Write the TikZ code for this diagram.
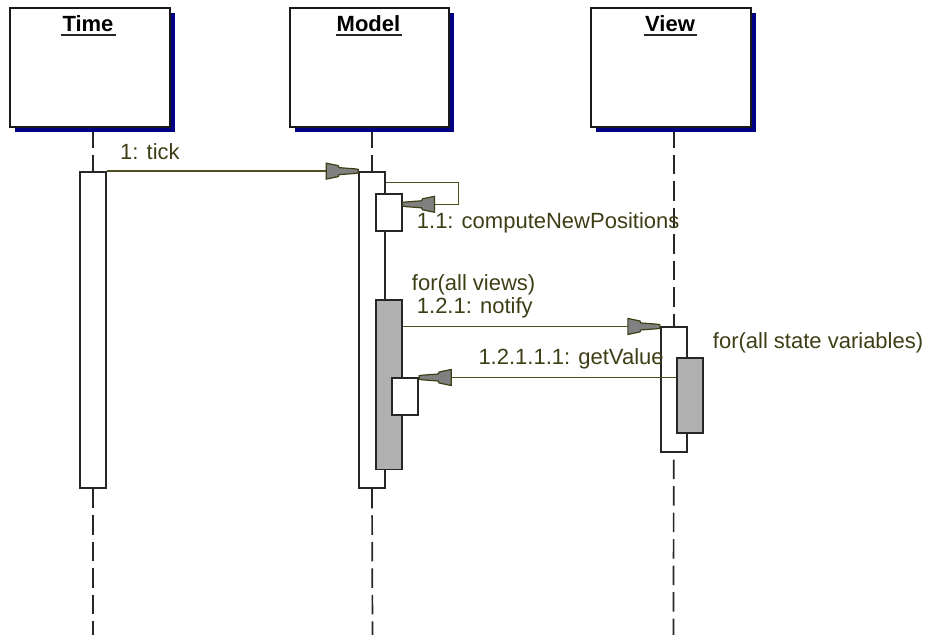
\documentclass[tikz,border=0pt]{standalone}
\usepackage{fontspec}
\setmainfont{Liberation Sans}
\usetikzlibrary{calc,shadows,decorations.markings}
\definecolor{olivetxt}{RGB}{62,62,22}
\definecolor{oliveln}{RGB}{78,78,30}
\definecolor{headgray}{RGB}{128,128,128}
\definecolor{actgray}{RGB}{176,176,176}
\definecolor{shadownavy}{RGB}{0,0,130}
\pgfdeclarelayer{background}
\pgfsetlayers{background,main}
\tikzset{
 objbox/.style={draw=black!90, line width=2pt, fill=white, minimum width=160pt, minimum height=119pt, inner sep=0pt,
   drop shadow={shadow xshift=5pt, shadow yshift=-5pt, fill=shadownavy, opacity=1}},
 objtitle/.style={font=\fontsize{22}{26}\selectfont\bfseries, inner sep=0pt, anchor=base},
 uline/.style={draw=black!85, line width=1.7pt},
 act/.style={draw=black!85, line width=1.7pt, fill=white, minimum width=26pt, inner sep=0pt},
 actg/.style={act, fill=actgray},
 lifeline/.style={draw=black!85, line width=1.7pt, dash pattern=on 19.5pt off 7pt},
 msg/.style={draw=oliveln, line width=1.6pt, postaction={decorate},
   decoration={markings, mark=at position 1 with {\filldraw[fill=headgray, draw=olivetxt, line width=1.2pt]
     (-32pt,8pt) -- (-20pt,5.5pt) -- (-19pt,3.5pt) -- (-3pt,2.3pt) -- (0pt,1.8pt) -- (0pt,-1.8pt) -- (-3pt,-2.3pt) -- (-19pt,-3.5pt) -- (-20pt,-5.5pt) -- (-32pt,-8pt) -- cycle;}}},
 lbl/.style={text=olivetxt, font=\fontsize{22}{24}\selectfont, inner sep=0pt, anchor=base west},
}
\begin{document}
\begin{tikzpicture}[x=1pt,y=-1pt]
\useasboundingbox (0,0) rectangle (930,635);
% object boxes
\node[objbox] (time) at (90,67.5) {};
\node[objbox, minimum width=159pt] (model) at (369.5,67.5) {};
\node[objbox] (view) at (671,67.5) {};
\node[objtitle] (timet) at (88,31) {Time};
\node[objtitle] (modelt) at (368.5,31) {Model};
\node[objtitle] (viewt) at (670,31) {View};
\draw[uline] ([xshift=-1pt,yshift=-4pt]timet.base west) -- ([xshift=2pt,yshift=-4pt]timet.base east);
\draw[uline] ([xshift=-1pt,yshift=-4pt]modelt.base west) -- ([xshift=2pt,yshift=-4pt]modelt.base east);
\draw[uline] ([xshift=-1pt,yshift=-4pt]viewt.base west) -- ([xshift=2pt,yshift=-4pt]viewt.base east);
% activations
\node[act, minimum height=316pt] (ta) at (93,330) {};
\node[act, minimum height=316pt] (ma) at (372,330) {};
\node[act, minimum height=36.7pt] (ms1) at (388.7,212.3) {};
\node[actg, minimum height=169.3pt] (mg) at (388.8,384.7) {};
\node[act, minimum height=37.3pt] (ms2) at (405.3,396.3) {};
\node[act, minimum height=124.4pt] (va) at (673.7,389.5) {};
\node[actg, minimum width=26.6pt, minimum height=75pt] (vg) at (690,395.8) {};
% lifeline ends
\coordinate (tend) at (93,635);
\coordinate (mend) at (372.5,635);
\coordinate (vend) at (673.5,635);
\begin{pgfonlayer}{background}
\draw[lifeline] (ta.north |- time.south) -- (ta.north);
\draw[lifeline] (ta.south) -- (tend);
\draw[lifeline] (ma.north |- model.south) -- (ma.north);
\draw[lifeline] (ma.south) -- (mend);
\draw[lifeline] (va.north |- view.south) -- (va.north);
\draw[lifeline] ([yshift=-7pt]va.south) -- (vend);
\end{pgfonlayer}
% messages
\draw[msg] (ta.north east) -- (ma.north west);
\coordinate (selfc) at (458.5,204.3);
\draw[msg] ($(ma.north east)+(0,11.3)$) -| (selfc) -- (selfc -| ms1.east);
\draw[msg] (mg.east |- va.north) -- (va.north west);
\draw[msg] ($(vg.west |- ms2.north)+(0,0.7)$) -- ($(ms2.north east)+(0,0.7)$);
% labels
\node[lbl] (l1) at (120,159) {1: tick};
\node[lbl] (l11) at (416.7,228.3) {1.1: computeNewPositions};
\node[lbl] (l121a) at (411.7,290) {for(all views)};
\node[lbl] (l121b) at (416.7,313.3) {1.2.1: notify};
\node[lbl] (lgv) at (478.3,364.3) {1.2.1.1.1: getValue};
\node[lbl] (lsv) at (712.7,348.3) {for(all state variables)};
\end{tikzpicture}
\end{document}
